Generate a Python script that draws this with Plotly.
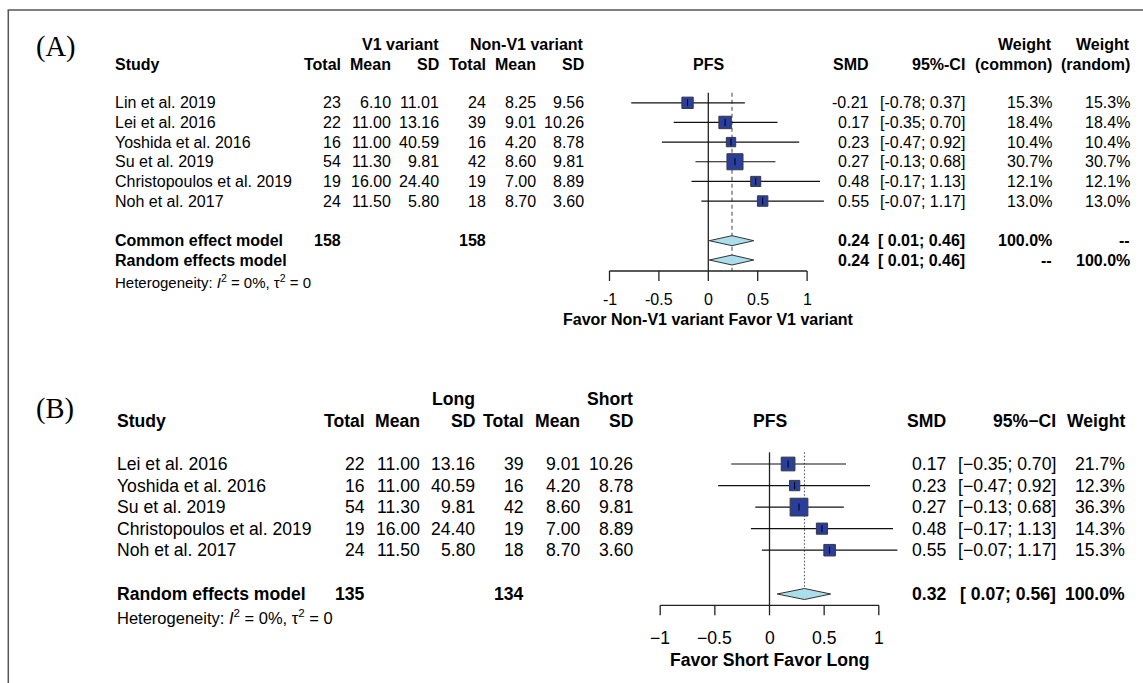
import math
import plotly.graph_objects as go

W, H = 1143, 683
FONT = "Liberation Sans, Arial, sans-serif"
SERIF = "Liberation Serif, Times New Roman, serif"

# ---------------- Panel A data ----------------
studies_a = ["Lin et al. 2019", "Lei et al. 2016", "Yoshida et al. 2016",
             "Su et al. 2019", "Christopoulos et al. 2019", "Noh et al. 2017"]
v1_total = [23, 22, 16, 54, 19, 24]
v1_mean = [6.10, 11.00, 11.00, 11.30, 16.00, 11.50]
v1_sd = [11.01, 13.16, 40.59, 9.81, 24.40, 5.80]
nv1_total = [24, 39, 16, 42, 19, 18]
nv1_mean = [8.25, 9.01, 4.20, 8.60, 7.00, 8.70]
nv1_sd = [9.56, 10.26, 8.78, 9.81, 8.89, 3.60]
smd_a = [-0.21, 0.17, 0.23, 0.27, 0.48, 0.55]
lo_a = [-0.78, -0.35, -0.47, -0.13, -0.17, -0.07]
hi_a = [0.37, 0.70, 0.92, 0.68, 1.13, 1.17]
wcom_a = [15.3, 18.4, 10.4, 30.7, 12.1, 13.0]
wran_a = [15.3, 18.4, 10.4, 30.7, 12.1, 13.0]
common_a = [0.24, 0.01, 0.46]
random_a = [0.24, 0.01, 0.46]
totals_a = [158, 158]

# ---------------- Panel B data ----------------
studies_b = ["Lei et al. 2016", "Yoshida et al. 2016", "Su et al. 2019",
             "Christopoulos et al. 2019", "Noh et al. 2017"]
long_total = [22, 16, 54, 19, 24]
long_mean = [11.00, 11.00, 11.30, 16.00, 11.50]
long_sd = [13.16, 40.59, 9.81, 24.40, 5.80]
short_total = [39, 16, 42, 19, 18]
short_mean = [9.01, 4.20, 8.60, 7.00, 8.70]
short_sd = [10.26, 8.78, 9.81, 8.89, 3.60]
smd_b = [0.17, 0.23, 0.27, 0.48, 0.55]
lo_b = [-0.35, -0.47, -0.13, -0.17, -0.07]
hi_b = [0.70, 0.92, 0.68, 1.13, 1.17]
w_b = [21.7, 12.3, 36.3, 14.3, 15.3]
random_b = [0.32, 0.07, 0.56]
totals_b = [135, 134]

tick_vals = [-1, -0.5, 0, 0.5, 1]
tick_text_a = ["-1", "-0.5", "0", "0.5", "1"]
tick_text_b = ["\u22121", "\u22120.5", "0", "0.5", "1"]

# ---------------- layout geometry (pixels) ----------------
A = dict(zero=708.3, unit=98.8, row0=102.8, step=19.65, sum_y=[240.7, 260.0],
         top=92.7, axis_y=271.0, tick_len=10, ticklab_y=299.5, xlab_y=319.0,
         fs=16, hdr1=44.0, hdr2=64.0, het_y=281.0, dh=5.0, k=2.9,
         dom=(580.0, 880.0))
B = dict(zero=769.5, unit=109.3, row0=464.0, step=21.55, sum_y=[594.0],
         top=452.3, axis_y=605.3, tick_len=10, ticklab_y=638.0, xlab_y=660.0,
         fs=17.6, hdr1=399.0, hdr2=421.0, het_y=617.0, dh=5.5, k=2.95,
         dom=(620.0, 960.0))

SQ_FILL = "#2A3E9C"
SQ_LINE = "#3a3a3a"
DIA_FILL = "#A9DEEA"

fig = go.Figure()
annotations = []


def txt(x, y, s, anchor="left", size=14, bold=False, family=FONT, xref="paper"):
    if bold:
        s = "<b>" + s + "</b>"
    annotations.append(dict(
        x=(x / W) if xref == "paper" else x, y=y, xref=xref, yref="y",
        text=s, showarrow=False, xanchor=anchor, yanchor="middle",
        font=dict(size=size, family=family, color="#000000"),
        borderpad=0, borderwidth=0))


def f2(v):
    return f"{v:.2f}"


def forest(P, xa, smd, lo, hi, w, summaries, ref_dash, ticktext, xlabel):
    rows = [P["row0"] + i * P["step"] for i in range(len(smd))]
    common = dict(xaxis=xa, yaxis="y", hoverinfo="skip", showlegend=False)
    # zero line
    fig.add_trace(go.Scatter(x=[0, 0], y=[P["top"], P["axis_y"]], mode="lines",
                             line=dict(color="#222", width=1.3), **common))
    # reference line at pooled estimate
    est = summaries[0][0]
    end_y = P["axis_y"] if len(summaries) > 1 else P["sum_y"][0] - P["dh"]
    fig.add_trace(go.Scatter(x=[est, est], y=[P["top"], end_y], mode="lines",
                             line=dict(color="#555", width=1.1, dash=ref_dash), **common))
    # CI lines
    xs, ys = [], []
    for l, h, y in zip(lo, hi, rows):
        xs += [l, h, None]
        ys += [y, y, None]
    fig.add_trace(go.Scatter(x=xs, y=ys, mode="lines", line=dict(color="#111", width=1.2),
                             **common))
    # squares (area proportional to weight)
    fig.add_trace(go.Scatter(x=smd, y=rows, mode="markers",
                             marker=dict(symbol="square", size=[P["k"] * math.sqrt(v) for v in w],
                                         color=SQ_FILL, opacity=1,
                                         line=dict(color=SQ_LINE, width=1)),
                             **common))
    fig.add_trace(go.Scatter(x=smd, y=rows, mode="markers",
                             marker=dict(symbol="line-ns", size=5, opacity=1,
                                         line=dict(color="#000", width=1)),
                             **common))
    # diamonds
    for (e, l, h), y in zip(summaries, P["sum_y"]):
        fig.add_trace(go.Scatter(x=[l, e, h, e, l], y=[y, y - P["dh"], y, y + P["dh"], y],
                                 mode="lines", fill="toself", fillcolor=DIA_FILL,
                                 line=dict(color="#333", width=1), **common))
    # axis line + ticks
    ay = P["axis_y"]
    fig.add_trace(go.Scatter(x=[tick_vals[0], tick_vals[-1]], y=[ay, ay], mode="lines",
                             line=dict(color="#222", width=1.3), **common))
    tx, ty = [], []
    for t in tick_vals:
        tx += [t, t, None]
        ty += [ay, ay + P["tick_len"], None]
    fig.add_trace(go.Scatter(x=tx, y=ty, mode="lines", line=dict(color="#222", width=1.3),
                             **common))
    for t, s in zip(tick_vals, ticktext):
        txt(t, P["ticklab_y"], s, anchor="center", size=P["fs"], xref=xa)
    txt(0, P["xlab_y"], xlabel, anchor="center", size=P["fs"], bold=True, xref=xa)
    txt(0, P["hdr2"], "PFS", anchor="center", size=P["fs"], bold=True, xref=xa)
    return rows


# ---------------- Panel A ----------------
rows_a = forest(A, "x", smd_a, lo_a, hi_a, wcom_a, [common_a, random_a], "4px,3px",
                tick_text_a, "Favor Non-V1 variant Favor V1 variant")
fs = A["fs"]
cA = dict(study=114.8, t1=340.6, m1=391.1, s1=439.3, t2=486.0, m2=535.7, s2=584.3,
          smd=868.6, ci=965.3, wc=1051.9, wr=1130.0)
txt(36, 47, "(A)", size=28.5, family=SERIF)
txt(cA["s1"], A["hdr1"], "V1 variant", anchor="right", size=fs, bold=True)
txt(cA["s2"], A["hdr1"], "Non-V1 variant", anchor="right", size=fs, bold=True)
txt(cA["wc"], A["hdr1"], "Weight", anchor="right", size=fs, bold=True)
txt(cA["wr"], A["hdr1"], "Weight", anchor="right", size=fs, bold=True)
txt(cA["study"], A["hdr2"], "Study", size=fs, bold=True)
for key, s in [("t1", "Total"), ("m1", "Mean"), ("s1", "SD"), ("t2", "Total"),
               ("m2", "Mean"), ("s2", "SD"), ("smd", "SMD"), ("ci", "95%-CI"),
               ("wc", "(common)"), ("wr", "(random)")]:
    txt(cA[key], A["hdr2"], s, anchor="right", size=fs, bold=True)


def ci_a(l, h):
    fl = f2(l) if l < 0 else "\u00a0" + f2(l)
    return f"[{fl}; {f2(h)}]"


for i, y in enumerate(rows_a):
    txt(cA["study"], y, studies_a[i], size=fs)
    txt(cA["t1"], y, str(v1_total[i]), anchor="right", size=fs)
    txt(cA["m1"], y, f2(v1_mean[i]), anchor="right", size=fs)
    txt(cA["s1"], y, f2(v1_sd[i]), anchor="right", size=fs)
    txt(cA["t2"], y, str(nv1_total[i]), anchor="right", size=fs)
    txt(cA["m2"], y, f2(nv1_mean[i]), anchor="right", size=fs)
    txt(cA["s2"], y, f2(nv1_sd[i]), anchor="right", size=fs)
    txt(cA["smd"], y, f2(smd_a[i]), anchor="right", size=fs)
    txt(cA["ci"], y, ci_a(lo_a[i], hi_a[i]), anchor="right", size=fs)
    txt(cA["wc"], y, f"{wcom_a[i]:.1f}%", anchor="right", size=fs)
    txt(cA["wr"], y, f"{wran_a[i]:.1f}%", anchor="right", size=fs)

y0, y1 = A["sum_y"]
txt(cA["study"], y0, "Common effect model", size=fs, bold=True)
txt(cA["t1"], y0, str(totals_a[0]), anchor="right", size=fs, bold=True)
txt(cA["t2"], y0, str(totals_a[1]), anchor="right", size=fs, bold=True)
txt(cA["smd"], y0, f2(common_a[0]), anchor="right", size=fs, bold=True)
txt(cA["ci"], y0, ci_a(common_a[1], common_a[2]), anchor="right", size=fs, bold=True)
txt(cA["wc"], y0, "100.0%", anchor="right", size=fs, bold=True)
txt(cA["wr"], y0, "--", anchor="right", size=fs, bold=True)
txt(cA["study"], y1, "Random effects model", size=fs, bold=True)
txt(cA["smd"], y1, f2(random_a[0]), anchor="right", size=fs, bold=True)
txt(cA["ci"], y1, ci_a(random_a[1], random_a[2]), anchor="right", size=fs, bold=True)
txt(cA["wc"], y1, "--", anchor="right", size=fs, bold=True)
txt(cA["wr"], y1, "100.0%", anchor="right", size=fs, bold=True)
txt(cA["study"], A["het_y"],
    "Heterogeneity: <i>I</i><sup>2</sup> = 0%, \u03c4<sup>2</sup> = 0", size=15)

# ---------------- Panel B ----------------
rows_b = forest(B, "x2", smd_b, lo_b, hi_b, w_b, [random_b], "1.5px,2px",
                tick_text_b, "Favor Short Favor Long")
fs = B["fs"]
cB = dict(study=116.7, t1=365.4, m1=420.2, s1=474.5, t2=524.2, m2=579.7, s2=633.2,
          smd=945.6, ci=1055.6, w=1125.2)
txt(36, 408.5, "(B)", size=28.5, family=SERIF)
txt(cB["s1"], B["hdr1"], "Long", anchor="right", size=fs, bold=True)
txt(cB["s2"], B["hdr1"], "Short", anchor="right", size=fs, bold=True)
txt(cB["study"], B["hdr2"], "Study", size=fs, bold=True)
for key, s in [("t1", "Total"), ("m1", "Mean"), ("s1", "SD"), ("t2", "Total"),
               ("m2", "Mean"), ("s2", "SD"), ("smd", "SMD"), ("ci", "95%\u2212CI"),
               ("w", "Weight")]:
    txt(cB[key], B["hdr2"], s, anchor="right", size=fs, bold=True)


def ci_b(l, h):
    fl = f2(l).replace("-", "\u2212") if l < 0 else "\u00a0" + f2(l)
    return f"[{fl}; {f2(h)}]"


for i, y in enumerate(rows_b):
    txt(cB["study"], y, studies_b[i], size=fs)
    txt(cB["t1"], y, str(long_total[i]), anchor="right", size=fs)
    txt(cB["m1"], y, f2(long_mean[i]), anchor="right", size=fs)
    txt(cB["s1"], y, f2(long_sd[i]), anchor="right", size=fs)
    txt(cB["t2"], y, str(short_total[i]), anchor="right", size=fs)
    txt(cB["m2"], y, f2(short_mean[i]), anchor="right", size=fs)
    txt(cB["s2"], y, f2(short_sd[i]), anchor="right", size=fs)
    txt(cB["smd"], y, f2(smd_b[i]), anchor="right", size=fs)
    txt(cB["ci"], y, ci_b(lo_b[i], hi_b[i]), anchor="right", size=fs)
    txt(cB["w"], y, f"{w_b[i]:.1f}%", anchor="right", size=fs)

yb = B["sum_y"][0]
txt(cB["study"], yb, "Random effects model", size=fs, bold=True)
txt(cB["t1"], yb, str(totals_b[0]), anchor="right", size=fs, bold=True)
txt(cB["t2"], yb, str(totals_b[1]), anchor="right", size=fs, bold=True)
txt(cB["smd"], yb, f2(random_b[0]), anchor="right", size=fs, bold=True)
txt(cB["ci"], yb, ci_b(random_b[1], random_b[2]), anchor="right", size=fs, bold=True)
txt(cB["w"], yb, "100.0%", anchor="right", size=fs, bold=True)
txt(cB["study"], B["het_y"],
    "Heterogeneity: <i>I</i><sup>2</sup> = 0%, \u03c4<sup>2</sup> = 0", size=16.5)

# ---------------- axes ----------------
a_l, a_r = A["dom"]
b_l, b_r = B["dom"]
fig.update_layout(
    width=W, height=H, autosize=False,
    margin=dict(l=0, r=0, t=0, b=0, pad=0),
    paper_bgcolor="white", plot_bgcolor="rgba(0,0,0,0)",
    showlegend=False,
    xaxis=dict(domain=[a_l / W, a_r / W],
               range=[(a_l - A["zero"]) / A["unit"], (a_r - A["zero"]) / A["unit"]],
               visible=False, fixedrange=True, anchor="y"),
    xaxis2=dict(domain=[b_l / W, b_r / W],
                range=[(b_l - B["zero"]) / B["unit"], (b_r - B["zero"]) / B["unit"]],
                visible=False, fixedrange=True, anchor="y"),
    yaxis=dict(domain=[0, 1], range=[H, 0], visible=False, fixedrange=True, anchor="x"),
    annotations=annotations,
    shapes=[
        dict(type="line", xref="paper", yref="paper", x0=8.3 / W, x1=8.3 / W,
             y0=1 - 10 / H, y1=0, line=dict(color="#555", width=1.5)),
        dict(type="line", xref="paper", yref="paper", x0=7.6 / W, x1=1,
             y0=1 - 10 / H, y1=1 - 10 / H, line=dict(color="#555", width=1.5)),
    ],
)

fig.write_html("out.html", config=dict(displayModeBar=False))
